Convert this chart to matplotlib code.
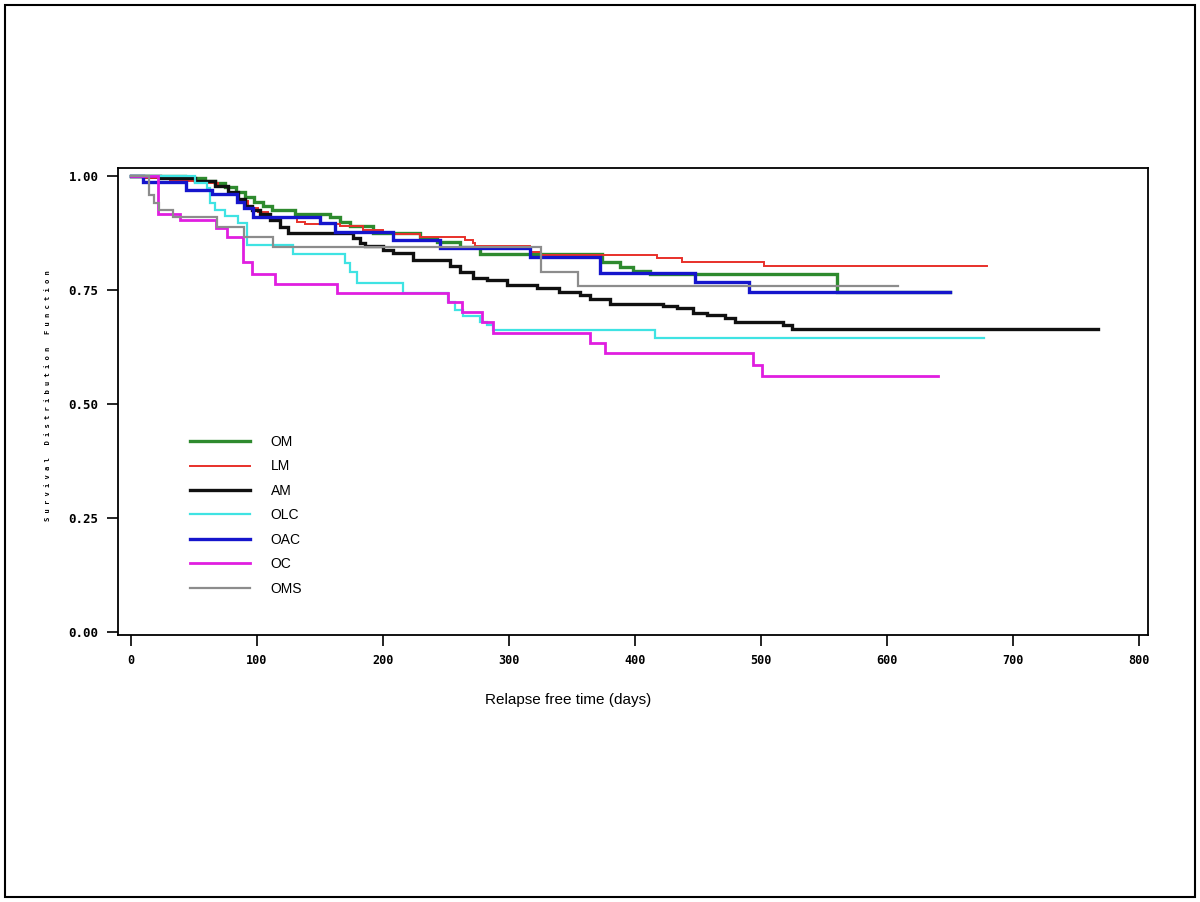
import matplotlib
matplotlib.use("Agg")
import matplotlib.pyplot as plt
from matplotlib.patches import Rectangle

groups = ["OM", "LM", "AM", "OLC", "OAC", "OC", "OMS"]
colors = ["#2e8a2e", "#e8302a", "#101010", "#3fe3e3", "#1515cc", "#e01ee0", "#8c8c8c"]
widths = [2.4, 1.4, 2.4, 1.6, 2.4, 2.0, 1.6]

om_t = [0, 43, 59, 67, 75, 83, 90.5, 98, 105, 112, 130, 158, 166, 174, 192, 229, 243, 261, 277, 374, 388, 398, 412, 560, 650]
om_s = [1.0, 0.995, 0.99, 0.985, 0.975, 0.965, 0.955, 0.943, 0.934, 0.925, 0.916, 0.91, 0.90, 0.89, 0.876, 0.865, 0.855, 0.845, 0.83, 0.812, 0.80, 0.792, 0.785, 0.745, 0.745]

lm_t = [0, 11, 31, 55, 69, 77, 85, 93, 101, 109, 132, 138, 166, 184, 200, 208, 229, 265, 271, 273, 317, 325, 417, 437, 502, 679]
lm_s = [1.0, 0.995, 0.99, 0.985, 0.975, 0.96, 0.945, 0.93, 0.92, 0.91, 0.90, 0.895, 0.89, 0.882, 0.877, 0.872, 0.866, 0.86, 0.853, 0.846, 0.834, 0.827, 0.82, 0.811, 0.803, 0.803]

am_t = [0, 23, 51, 67, 77, 85, 90.5, 96, 102, 110, 118, 124.6, 176, 182, 186, 200, 208, 224, 253, 261, 271, 282.5, 298, 322, 340, 356, 364, 380, 422, 433, 446, 457, 471, 479, 517, 524.6, 767]
am_s = [1.0, 0.995, 0.99, 0.978, 0.965, 0.95, 0.935, 0.925, 0.916, 0.904, 0.888, 0.875, 0.864, 0.853, 0.846, 0.838, 0.831, 0.816, 0.803, 0.79, 0.777, 0.772, 0.761, 0.754, 0.746, 0.739, 0.73, 0.72, 0.715, 0.71, 0.70, 0.695, 0.689, 0.68, 0.673, 0.664, 0.664]

olc_t = [0, 51, 60, 63, 67, 75, 85, 92, 128.6, 170, 174, 179, 216, 251.6, 257, 263.5, 277, 282.5, 287, 416, 677]
olc_s = [1.0, 0.985, 0.974, 0.94, 0.925, 0.912, 0.897, 0.849, 0.83, 0.81, 0.79, 0.765, 0.743, 0.724, 0.706, 0.693, 0.68, 0.673, 0.662, 0.645, 0.645]

oac_t = [0, 9.5, 44, 64, 84, 90, 97, 150, 162, 208, 245, 317, 372, 447.6, 490, 650]
oac_s = [1.0, 0.987, 0.97, 0.96, 0.942, 0.93, 0.91, 0.897, 0.877, 0.86, 0.843, 0.822, 0.787, 0.768, 0.746, 0.746]

oc_t = [0, 21.4, 38.9, 67.5, 76, 89, 96, 114, 163.5, 251.6, 262.7, 278.6, 287.3, 364, 376, 493.6, 500.8, 640]
oc_s = [1.0, 0.917, 0.9035, 0.886, 0.866, 0.811, 0.785, 0.763, 0.743, 0.724, 0.702, 0.68, 0.656, 0.634, 0.612, 0.586, 0.561, 0.561]

oms_t = [0, 14, 18, 22, 33, 68, 90, 113, 325, 355, 609]
oms_s = [1.0, 0.958, 0.941, 0.925, 0.91, 0.888, 0.866, 0.844, 0.789, 0.759, 0.759]

times = [om_t, lm_t, am_t, olc_t, oac_t, oc_t, oms_t]
survs = [om_s, lm_s, am_s, olc_s, oac_s, oc_s, oms_s]

x_ticks = [0, 100, 200, 300, 400, 500, 600, 700, 800]
y_ticks = [0.00, 0.25, 0.50, 0.75, 1.00]
y_tick_labels = ["0.00", "0.25", "0.50", "0.75", "1.00"]

fig = plt.figure(figsize=(12, 9.02), dpi=100)
fig.patches.append(Rectangle((5 / 1200, 5 / 902), 1190 / 1200, 892 / 902,
                             transform=fig.transFigure, fill=False,
                             edgecolor="black", linewidth=1.5))

ax = fig.add_axes([118 / 1200, 1 - 635 / 902, 1030 / 1200, 467 / 902])

for g, c, w, t, s in zip(groups, colors, widths, times, survs):
    ax.step(t, s, where="post", color=c, linewidth=w, label=g, solid_joinstyle="miter")

ax.set_xlim(-10.3, 807)
ax.set_ylim(-0.0066, 1.0175)
ax.set_xticks(x_ticks)
ax.set_xticklabels([str(v) for v in x_ticks],
                   fontfamily="DejaVu Sans Mono", fontsize=8.5, fontweight="bold")
ax.set_yticks(y_ticks)
ax.set_yticklabels(y_tick_labels,
                   fontfamily="DejaVu Sans Mono", fontsize=9, fontweight="bold")
ax.tick_params(direction="out", length=8, width=1.2, pad=6)
for sp in ax.spines.values():
    sp.set_linewidth(1.3)

fig.text(568 / 1200, 1 - 700 / 902, "Relapse free time (days)", ha="center", va="center",
         fontfamily="Liberation Sans", fontsize=11)
fig.text(48 / 1200, 1 - 396 / 902, "S u r v i v a l   D i s t r i b u t i o n   F u n c t i o n",
         rotation=90, ha="center", va="center", fontfamily="DejaVu Sans Mono",
         fontsize=5.1, fontweight="bold")

leg = ax.legend(loc="upper left", bbox_to_anchor=(0.058, 0.455), frameon=False,
                handlelength=4.3, handletextpad=1.5, labelspacing=0.75,
                prop={"family": "Liberation Sans", "size": 10})

fig.savefig("out.png", dpi=100)
